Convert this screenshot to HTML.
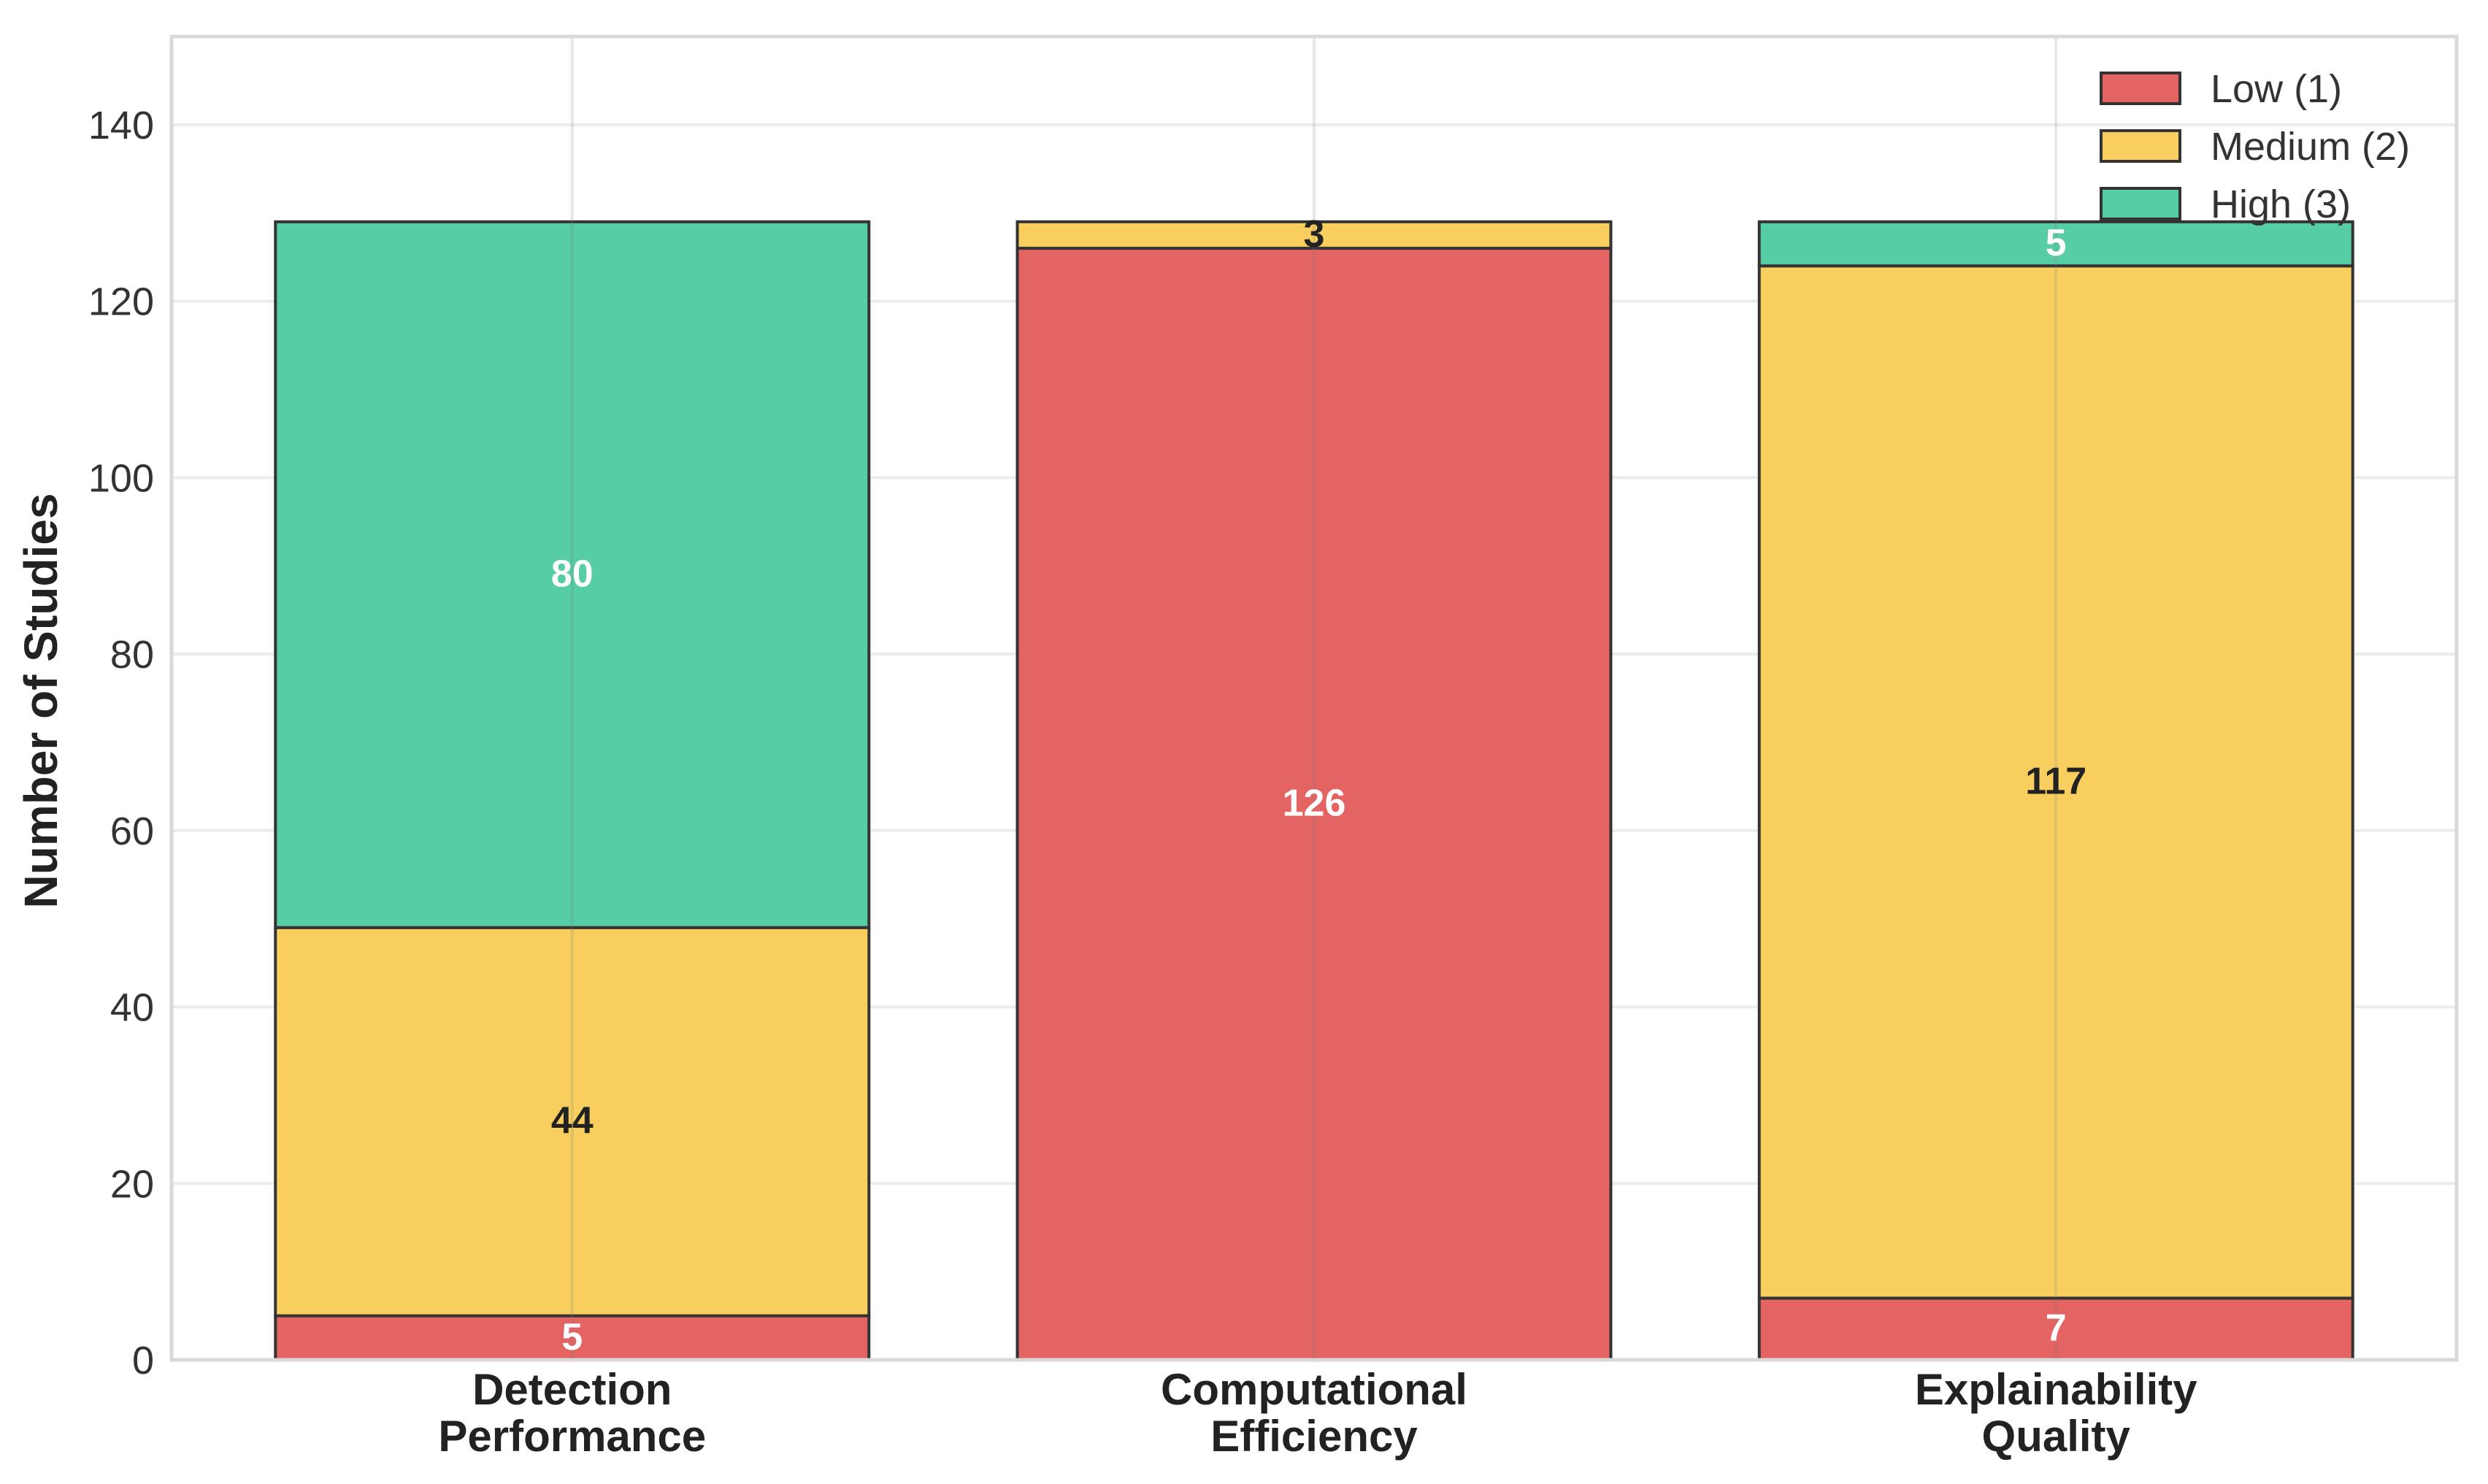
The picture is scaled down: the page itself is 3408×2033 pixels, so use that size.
<!DOCTYPE html>
<html><head><meta charset="utf-8">
<style>
html,body{margin:0;padding:0;background:#fff;}
svg{display:block;font-family:"Liberation Sans",Arial,sans-serif;}
</style></head>
<body>
<svg id="chart" width="3408" height="2033" viewBox="0 0 3408 2033" xmlns="http://www.w3.org/2000/svg">
<rect x="0" y="0" width="3408" height="2033" fill="#fff"/>
<g id="grid"></g>
<g id="bars"></g>
<g id="vgrid"></g>
<g id="labels"></g>
<g id="axes"></g>
<g id="legend"></g>
</svg>
<script>
const categories = [["Detection","Performance"],["Computational","Efficiency"],["Explainability","Quality"]];
const lowValues = [5,126,7];
const mediumValues = [44,3,117];
const highValues = [80,0,5];
const seriesNames = ["Low (1)","Medium (2)","High (3)"];
const yTicks = [0,20,40,60,80,100,120,140];

const NS="http://www.w3.org/2000/svg";
const L=235,R=3365,T=50,B=1863;
const yMax=150, xMin=-0.54, xMax=2.54;
function y(v){return B-(v/yMax)*(B-T);}
function x(i){return L+(i-xMin)/(xMax-xMin)*(R-L);}
const bw=0.8*(x(1)-x(0));
function mk(tag,attrs,parent){const e=document.createElementNS(NS,tag);for(const k in attrs)e.setAttribute(k,attrs[k]);parent.appendChild(e);return e;}
const colors=["#e46464","#f8cf5f","#56cda4"];
const txtColors=["#fff","#222","#fff"];
const grid=document.getElementById('grid'),bars=document.getElementById('bars'),vg=document.getElementById('vgrid'),lab=document.getElementById('labels'),axes=document.getElementById('axes'),leg=document.getElementById('legend');

yTicks.forEach(t=>{
  const ln=mk('line',{x1:L,x2:R,y1:y(t),y2:y(t),stroke:'#ececec','stroke-width':4},grid);
  
  
  const tx=mk('text',{x:211,y:y(t)+19,'text-anchor':'end','font-size':54,fill:'#333'},axes);
  tx.textContent=t;
  
  
});

const series=[lowValues,mediumValues,highValues];
const segNames=['low','medium','high'];
categories.forEach((c,i)=>{
  let base=0;
  series.forEach((s,k)=>{
    const v=s[i];
    if(v>0){
      const r=mk('rect',{x:x(i)-bw/2,y:y(base+v),width:bw,height:y(base)-y(base+v),fill:colors[k],stroke:'#333','stroke-width':4},bars);
      
      
      const t=mk('text',{x:x(i),y:(y(base)+y(base+v))/2+16,'text-anchor':'middle','font-size':52,'font-weight':'bold',fill:txtColors[k]},lab);
      t.textContent=v;
      
      
    }
    base+=v;
  });
  const g=mk('line',{x1:x(i),x2:x(i),y1:T,y2:B,stroke:'rgba(120,120,120,0.18)','stroke-width':4},vg);
  
  
  c.forEach((line,j)=>{
    const t=mk('text',{x:x(i),y:1924+j*64,'text-anchor':'middle','font-size':60,'font-weight':'bold',fill:'#222'},axes);
    t.textContent=line;
    
    
  });
});

const fr=mk('rect',{x:L,y:T,width:R-L,height:B-T,fill:'none',stroke:'#d9d9d9','stroke-width':5},axes);


const yl=mk('text',{x:0,y:0,transform:'translate(78,960) rotate(-90)','text-anchor':'middle','font-size':64,'font-weight':'bold',fill:'#222'},axes);
yl.textContent='Number of Studies';



seriesNames.forEach((n,k)=>{
  const yy=100+k*79;
  const p=mk('rect',{x:2878,y:yy,width:108,height:42,fill:colors[k],stroke:'#333','stroke-width':4},leg);
  
  
  const t=mk('text',{x:3028,y:yy+40,'font-size':54,fill:'#333'},leg);
  t.textContent=n;
  
  
});
</script>
</body></html>
